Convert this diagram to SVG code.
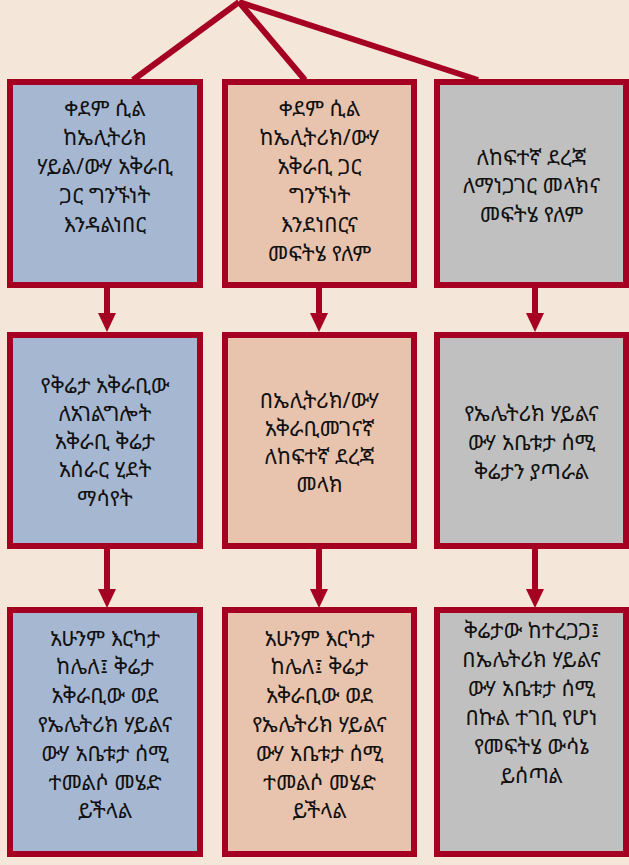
<svg xmlns="http://www.w3.org/2000/svg" width="629" height="865" viewBox="0 0 629 865">
<style>
.box{stroke:#a50021;stroke-width:6}
.blue{fill:#a6b7d2}
.peach{fill:#e8c3ad}
.grey{fill:#c0c0c0}
.lbl{font-family:"Noto Sans Ethiopic","Abyssinica SIL","Noto Sans","DejaVu Sans",sans-serif;font-size:21.5px;fill:#111;text-anchor:middle}
.con{stroke:#a50021;stroke-width:6;fill:none}
</style>
<defs>
<marker id="ah" markerUnits="userSpaceOnUse" markerWidth="19" markerHeight="18" refX="0" refY="9" orient="auto">
<path d="M0,0 L19,9 L0,18 Z" fill="#a50021"/>
</marker>
</defs>
<rect width="629" height="865" fill="#f4e6d9"/>
<g id="connectors">
<line class="con" x1="239" y1="2" x2="133" y2="80"/>
<line class="con" x1="239" y1="2" x2="305" y2="80"/>
<line class="con" x1="239" y1="2" x2="478" y2="80"/>
<line class="con" x1="107" y1="288" x2="107" y2="313" marker-end="url(#ah)"/>
<line class="con" x1="319" y1="288" x2="319" y2="313" marker-end="url(#ah)"/>
<line class="con" x1="535" y1="288" x2="535" y2="313" marker-end="url(#ah)"/>
<line class="con" x1="107" y1="549" x2="107" y2="589" marker-end="url(#ah)"/>
<line class="con" x1="319" y1="549" x2="319" y2="589" marker-end="url(#ah)"/>
<line class="con" x1="535" y1="549" x2="535" y2="589" marker-end="url(#ah)"/>
</g>
<g id="n1">
<rect class="box blue" x="10" y="82" width="190" height="203"/>
<text class="lbl" x="105" y="115.5"><tspan x="105">ቀደም ሲል</tspan><tspan x="105" dy="29">ከኤሊትሪክ</tspan><tspan x="105" dy="29">ሃይል/ውሃ አቅራቢ</tspan><tspan x="105" dy="29">ጋር ግንኙነት</tspan><tspan x="105" dy="29">እንዳልነበር</tspan></text>
</g>
<g id="n2">
<rect class="box peach" x="225" y="82" width="189" height="203"/>
<text class="lbl" x="319.5" y="115.5"><tspan x="319.5">ቀደም ሲል</tspan><tspan x="319.5" dy="29">ከኤሊትሪክ/ውሃ</tspan><tspan x="319.5" dy="29">አቅራቢ ጋር</tspan><tspan x="319.5" dy="29">ግንኙነት</tspan><tspan x="319.5" dy="29">እንደነበርና</tspan><tspan x="319.5" dy="29">መፍትሄ የለም</tspan></text>
</g>
<g id="n3">
<rect class="box grey" x="437" y="82" width="189" height="203"/>
<text class="lbl" x="531.5" y="164.5"><tspan x="531.5">ለከፍተኛ ደረጃ</tspan><tspan x="531.5" dy="28.5">ለማነጋገር መላክና</tspan><tspan x="531.5" dy="28.5">መፍትሄ የለም</tspan></text>
</g>
<g id="n4">
<rect class="box blue" x="10" y="335" width="190" height="211"/>
<text class="lbl" x="105" y="392.5"><tspan x="105">የቅሬታ አቅራቢው</tspan><tspan x="105" dy="28.3">ለአገልግሎት</tspan><tspan x="105" dy="28.3">አቅራቢ ቅሬታ</tspan><tspan x="105" dy="28.3">አሰራር ሂደት</tspan><tspan x="105" dy="28.3">ማሳየት</tspan></text>
</g>
<g id="n5">
<rect class="box peach" x="225" y="335" width="189" height="211"/>
<text class="lbl" x="319.5" y="407.5"><tspan x="319.5">በኤሊትሪክ/ውሃ</tspan><tspan x="319.5" dy="28.3">አቅራቢመገናኛ</tspan><tspan x="319.5" dy="28.3">ለከፍተኛ ደረጃ</tspan><tspan x="319.5" dy="28.3">መላክ</tspan></text>
</g>
<g id="n6">
<rect class="box grey" x="437" y="335" width="189" height="211"/>
<text class="lbl" x="531.5" y="420.5"><tspan x="531.5">የኤሌትሪክ ሃይልና</tspan><tspan x="531.5" dy="29">ውሃ አቤቱታ ሰሚ</tspan><tspan x="531.5" dy="29">ቅሬታን ያጣራል</tspan></text>
</g>
<g id="n7">
<rect class="box blue" x="10" y="610" width="190" height="244"/>
<text class="lbl" x="105" y="645.5"><tspan x="105">አሁንም እርካታ</tspan><tspan x="105" dy="28.8">ከሌለ፤ ቅሬታ</tspan><tspan x="105" dy="28.8">አቅራቢው ወደ</tspan><tspan x="105" dy="28.8">የኤሌትሪክ ሃይልና</tspan><tspan x="105" dy="28.8">ውሃ አቤቱታ ሰሚ</tspan><tspan x="105" dy="28.8">ተመልሶ መሄድ</tspan><tspan x="105" dy="28.8">ይችላል</tspan></text>
</g>
<g id="n8">
<rect class="box peach" x="225" y="610" width="189" height="244"/>
<text class="lbl" x="319.5" y="645.5"><tspan x="319.5">አሁንም እርካታ</tspan><tspan x="319.5" dy="28.8">ከሌለ፤ ቅሬታ</tspan><tspan x="319.5" dy="28.8">አቅራቢው ወደ</tspan><tspan x="319.5" dy="28.8">የኤሌትሪክ ሃይልና</tspan><tspan x="319.5" dy="28.8">ውሃ አቤቱታ ሰሚ</tspan><tspan x="319.5" dy="28.8">ተመልሶ መሄድ</tspan><tspan x="319.5" dy="28.8">ይችላል</tspan></text>
</g>
<g id="n9">
<rect class="box grey" x="437" y="610" width="189" height="244"/>
<text class="lbl" x="531.5" y="637.5"><tspan x="531.5">ቅሬታው ከተረጋጋ፤</tspan><tspan x="531.5" dy="29">በኤሌትሪክ ሃይልና</tspan><tspan x="531.5" dy="29">ውሃ አቤቱታ ሰሚ</tspan><tspan x="531.5" dy="29">በኩል ተገቢ የሆነ</tspan><tspan x="531.5" dy="29">የመፍትሄ ውሳኔ</tspan><tspan x="531.5" dy="29">ይሰጣል</tspan></text>
</g>
</svg>
